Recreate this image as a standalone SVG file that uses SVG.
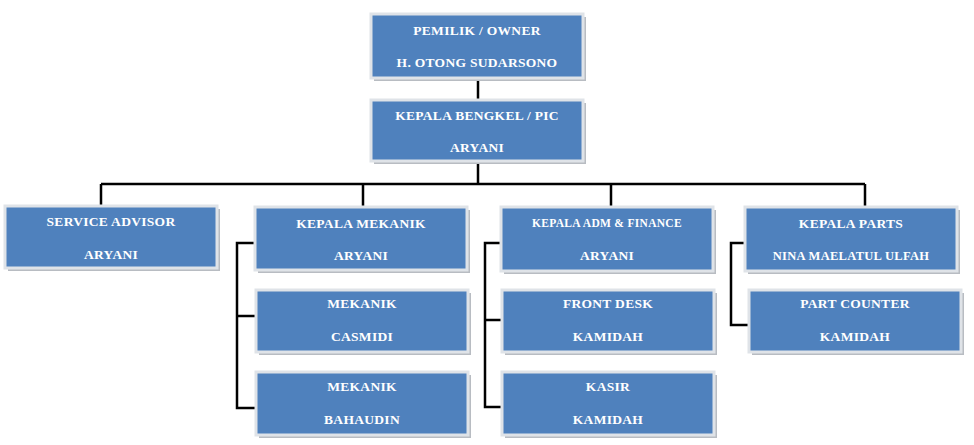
<svg xmlns="http://www.w3.org/2000/svg" width="974" height="445" viewBox="0 0 974 445">
<defs><style>
.b{fill:#4f81bd;stroke:#dfe3e8;stroke-width:3}
.s{fill:#b8bcc2}
text{font-family:"Liberation Serif","DejaVu Serif",serif;font-weight:bold;font-size:13.5px;fill:#fff;text-anchor:middle;letter-spacing:0.3px}
.c{fill:none;stroke:#000;stroke-width:2.5}
</style></defs>
<rect width="974" height="445" fill="#fff"/>
<g id="connectors" class="c">
<path d="M478 78V100M478 161V184M101 184H865M101 184V206M363 184V207M611 184V207M865 184V207"/>
<path d="M256 243H237V408H256M237 316H256"/>
<path d="M502 243H485V407H502M485 320H502"/>
<path d="M746 243H731V325H749"/>
</g>
<g id="owner"><rect class="s" x="374" y="17" width="212" height="64"/><rect class="b" x="371" y="14" width="212" height="64"/><text x="477" y="35">PEMILIK / OWNER</text><text x="477" y="67">H. OTONG SUDARSONO</text></g>
<g id="pic"><rect class="s" x="374" y="103" width="212" height="61"/><rect class="b" x="371" y="100" width="212" height="61"/><text x="477" y="120">KEPALA BENGKEL / PIC</text><text x="477" y="152">ARYANI</text></g>
<g id="sa"><rect class="s" x="8" y="209" width="212" height="62"/><rect class="b" x="5" y="206" width="212" height="62"/><text x="111" y="226">SERVICE ADVISOR</text><text x="111" y="259">ARYANI</text></g>
<g id="km"><rect class="s" x="258" y="210" width="212" height="63"/><rect class="b" x="255" y="207" width="212" height="63"/><text x="361" y="228">KEPALA MEKANIK</text><text x="361" y="260">ARYANI</text></g>
<g id="m1"><rect class="s" x="259" y="293" width="212" height="62"/><rect class="b" x="256" y="290" width="212" height="62"/><text x="362" y="308">MEKANIK</text><text x="362" y="341">CASMIDI</text></g>
<g id="m2"><rect class="s" x="259" y="375" width="212" height="63"/><rect class="b" x="256" y="372" width="212" height="63"/><text x="362" y="391">MEKANIK</text><text x="362" y="424">BAHAUDIN</text></g>
<g id="adm"><rect class="s" x="504" y="210" width="212" height="64"/><rect class="b" x="501" y="207" width="212" height="64"/><text x="607" y="227" style="font-size:11.5px">KEPALA ADM &amp; FINANCE</text><text x="607" y="260">ARYANI</text></g>
<g id="fd"><rect class="s" x="505" y="293" width="212" height="62"/><rect class="b" x="502" y="290" width="212" height="62"/><text x="608" y="308">FRONT DESK</text><text x="608" y="341">KAMIDAH</text></g>
<g id="kasir"><rect class="s" x="505" y="375" width="212" height="63"/><rect class="b" x="502" y="372" width="212" height="63"/><text x="608" y="391">KASIR</text><text x="608" y="424">KAMIDAH</text></g>
<g id="parts"><rect class="s" x="748" y="210" width="212" height="64"/><rect class="b" x="745" y="207" width="212" height="64"/><text x="851" y="228">KEPALA PARTS</text><text x="851" y="260" style="font-size:12.5px">NINA MAELATUL ULFAH</text></g>
<g id="pc"><rect class="s" x="752" y="293" width="212" height="62"/><rect class="b" x="749" y="290" width="212" height="62"/><text x="855" y="308">PART COUNTER</text><text x="855" y="341">KAMIDAH</text></g>
</svg>
